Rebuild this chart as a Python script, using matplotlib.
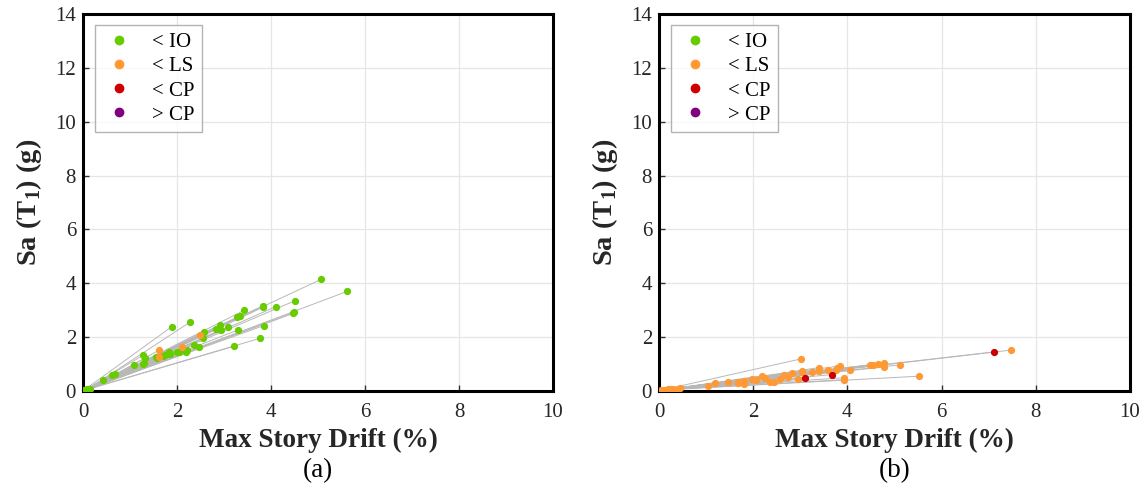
import matplotlib
matplotlib.use('Agg')
import matplotlib.pyplot as plt
from matplotlib.lines import Line2D

plt.rcParams['font.family'] = ['Liberation Serif', 'DejaVu Serif']
plt.rcParams['mathtext.fontset'] = 'custom'
plt.rcParams['mathtext.rm'] = 'Liberation Serif'
plt.rcParams['mathtext.bf'] = 'Liberation Serif:bold'

# performance levels
levels = ['< IO', '< LS', '< CP', '> CP']
level_colors = ['#66cc00', '#ff9933', '#cc0000', '#800080']

# panel (a): peak points of each record (drift %, Sa g, level index)
drift_a = [5.07, 5.62, 4.52, 4.10, 3.82, 3.84, 4.47, 4.50, 3.85, 3.77, 3.21, 3.43,
           3.34, 3.27, 3.30, 3.09, 2.91, 2.93, 2.83, 2.57, 2.56, 2.47, 2.37, 2.28,
           1.89, 2.22, 2.20, 1.99, 2.05, 1.84, 1.86, 1.70, 1.75, 1.55, 1.57, 1.32,
           1.30, 1.27, 1.27, 1.08, 0.68, 0.62, 0.43,
           2.50, 2.10, 1.62, 1.62]
sa_a = [4.15, 3.70, 3.36, 3.13, 3.16, 3.12, 2.88, 2.92, 2.43, 1.96, 1.66, 3.00,
        2.79, 2.73, 2.27, 2.38, 2.45, 2.27, 2.29, 2.20, 1.96, 1.63, 1.72, 2.56,
        2.39, 1.52, 1.45, 1.43, 1.45, 1.45, 1.38, 1.30, 1.35, 1.27, 1.22, 1.22,
        1.05, 1.00, 1.32, 0.97, 0.63, 0.60, 0.41,
        2.08, 1.62, 1.52, 1.25]
level_a = [0] * 43 + [1] * 4
# low-intensity starting points near the origin
low_drift_a = [0.02, 0.05, 0.08, 0.10, 0.12, 0.15, 0.06, 0.09]
low_sa_a = [0.03, 0.04, 0.05, 0.06, 0.07, 0.08, 0.05, 0.06]

# panel (b)
drift_b = [3.01, 1.05, 1.20, 1.47, 1.67, 1.67, 1.80, 1.80, 1.97, 2.06, 2.18, 2.25,
           2.36, 2.44, 2.57, 2.66, 2.75, 2.82, 3.03, 2.95, 3.03, 3.24, 3.40, 3.40,
           3.58, 3.75, 3.79, 3.84, 3.92, 3.92, 4.05, 4.48, 4.55, 4.65, 4.78, 4.78,
           5.12, 5.52, 7.48,
           3.10, 3.68, 7.11]
sa_b = [1.19, 0.19, 0.29, 0.33, 0.33, 0.29, 0.37, 0.27, 0.43, 0.41, 0.56, 0.47,
        0.32, 0.32, 0.43, 0.61, 0.53, 0.66, 0.71, 0.43, 0.74, 0.72, 0.87, 0.76,
        0.78, 0.78, 0.84, 0.93, 0.49, 0.42, 0.79, 0.97, 0.97, 0.99, 1.04, 0.89,
        0.97, 0.55, 1.52,
        0.50, 0.61, 1.45]
level_b = [1] * 39 + [2] * 3
low_drift_b = [0.05, 0.10, 0.15, 0.20, 0.25, 0.30, 0.40, 0.45]
low_sa_b = [0.03, 0.05, 0.05, 0.06, 0.07, 0.06, 0.08, 0.10]

panels = [
    (drift_a, sa_a, level_a, low_drift_a, low_sa_a, '(a)'),
    (drift_b, sa_b, level_b, low_drift_b, low_sa_b, '(b)'),
]

fig = plt.figure(figsize=(11.48, 4.96), dpi=100)
ax_rects = [[0.0723, 0.2117, 0.4094, 0.760], [0.574, 0.2117, 0.4103, 0.760]]

for rect, (drift, sa, level, low_d, low_s, tag) in zip(ax_rects, panels):
    ax = fig.add_axes(rect)
    n_low = len(low_d)
    # record lines from the low point to the peak point
    for i in range(len(drift)):
        x0, y0 = low_d[i % n_low], low_s[i % n_low]
        ax.plot([x0, drift[i]], [y0, sa[i]], color='#b8b8b8', lw=0.7, zorder=2)
    ax.plot(low_d, low_s, 'o', color=level_colors[level[0]], ms=4.2, zorder=3)
    for k in range(len(levels)):
        xs = [d for d, l in zip(drift, level) if l == k]
        ys = [s for s, l in zip(sa, level) if l == k]
        if xs:
            ax.plot(xs, ys, 'o', color=level_colors[k], ms=4.2, zorder=3)

    ax.set_xlim(0, 10)
    ax.set_ylim(0, 14)
    ax.set_xticks(range(0, 11, 2))
    ax.set_yticks(range(0, 15, 2))
    ax.grid(True, color='#e6e6e6', lw=0.9)
    ax.set_axisbelow(True)
    ax.tick_params(direction='in', length=4, width=1, labelsize=15,
                   colors='#333333', labelcolor='#262626')
    ax.tick_params(axis='x', pad=9)
    ax.tick_params(axis='y', pad=5)
    for sp in ax.spines.values():
        sp.set_linewidth(2.2)
        sp.set_color('black')
    ax.set_xlabel('Max Story Drift (%)', fontsize=19.5, fontweight='bold',
                  color='#262626', labelpad=4)
    ax.set_ylabel(r'Sa (T$_\mathbf{1}$) (g)', fontsize=20.5, fontweight='bold',
                  color='#262626', labelpad=8)
    ax.text(0.5, -0.21, tag, transform=ax.transAxes, ha='center', va='center',
            fontsize=19.5, color='black')

    handles = [Line2D([], [], ls='none', marker='o', ms=6, color=c) for c in level_colors]
    leg = ax.legend(handles, levels, loc='upper left', bbox_to_anchor=(0.025, 0.97),
                    fontsize=15, frameon=True, fancybox=False, edgecolor='#a0a0a0',
                    handletextpad=0.8, labelspacing=0.22, borderpad=0.35,
                    handlelength=1.6, borderaxespad=0)
    leg.get_frame().set_linewidth(1.0)

fig.savefig('out.png', dpi=100)
